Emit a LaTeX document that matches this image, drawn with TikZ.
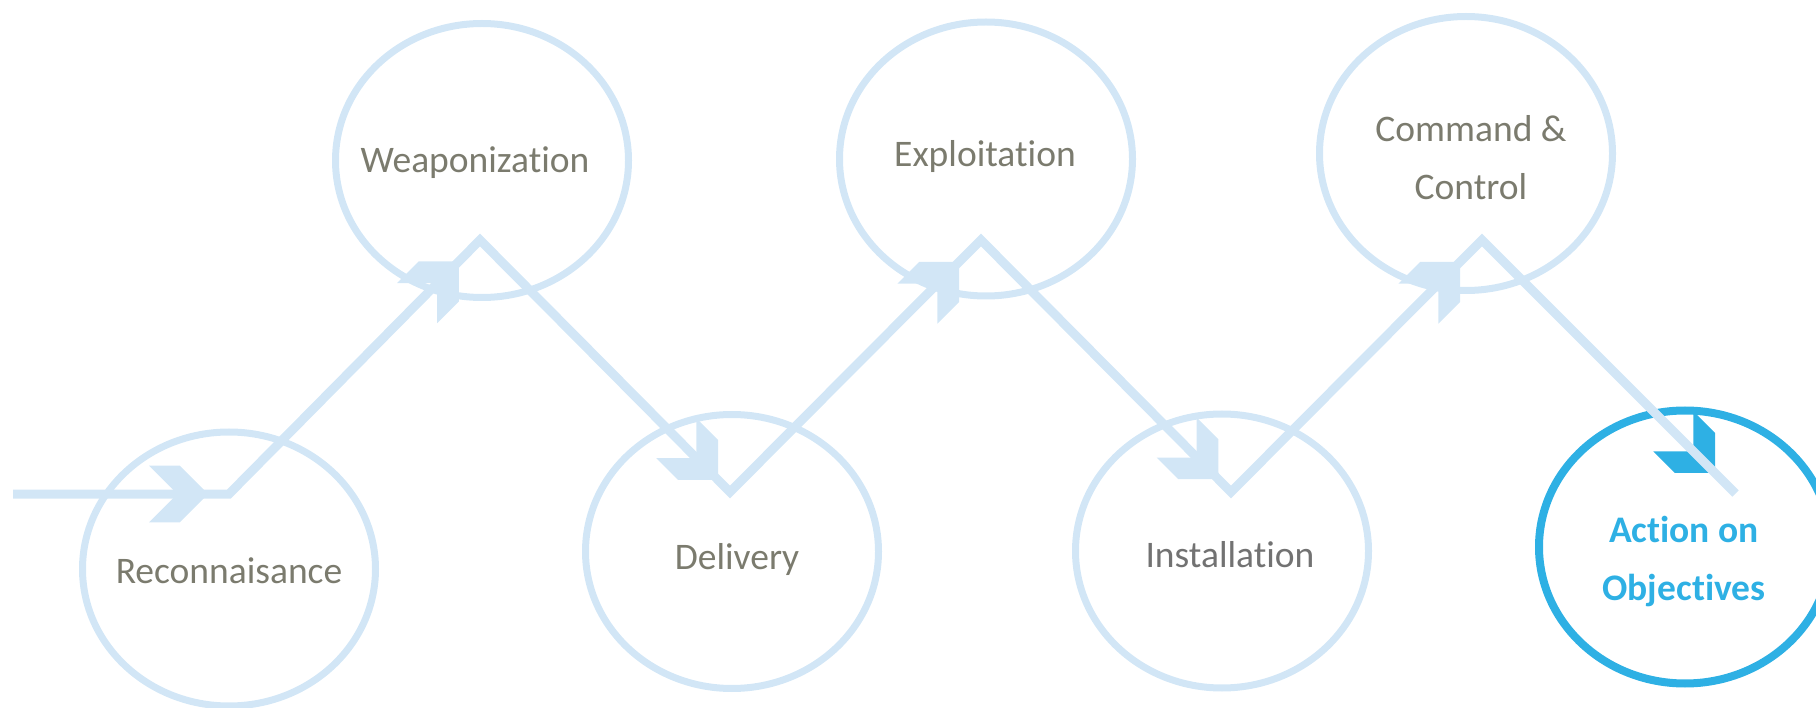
\documentclass[tikz,border=0pt]{standalone}
\usepackage{fontspec}
\setmainfont[Ligatures=NoCommon]{Carlito}
\usetikzlibrary{shapes.geometric,calc}
\definecolor{lightline}{HTML}{D2E6F6}
\definecolor{darkblue}{HTML}{2EB0E4}
\definecolor{txtgrey}{HTML}{7B7B6E}
\definecolor{txtgreyb}{HTML}{727272}
\begin{document}
\begin{tikzpicture}[x=1pt,y=-1pt,
  stage/.style={ellipse, draw=lightline, line width=7pt, minimum width=293pt, minimum height=274pt, inner sep=0pt},
  finalstage/.style={ellipse, draw=darkblue, line width=8pt, minimum width=292pt, minimum height=273pt, inner sep=0pt},
  stagetext/.style={text=txtgrey, font=\fontsize{37.5}{58}\selectfont, anchor=base, align=center, inner sep=0pt},
  flow/.style={draw=lightline, line width=9pt, line join=miter},
  chev/.pic={\fill (0,0) -- (-28.3,-28.3) -- (-59,-28.3) -- (-30.7,0) -- (-59,28.3) -- (-28.3,28.3) -- cycle;}]
\useasboundingbox (0,0) rectangle (1816,708);
% stages
\node[stage] (recon) at (229,569) {};
\node[stage] (weap) at (482,160.5) {};
\node[stage] (deliv) at (732,551.5) {};
\node[stage] (explo) at (986,159) {};
\node[stage] (inst) at (1222,551) {};
\node[stage] (cc) at (1466,153.5) {};
\node[finalstage] (act) at (1685,547) {};
% zigzag vertices
\coordinate (start) at (13,494);
\coordinate (v1) at (229,494);
\coordinate (v2) at (480,240);
\coordinate (v3) at (730,492);
\coordinate (v4) at (981,240);
\coordinate (v5) at (1231,492);
\coordinate (v6) at (1482,240);
\coordinate (end) at (1735.5,493.5);
% arrowheads
\pic[fill=lightline] at ($(v1)!21pt!(start)$) {chev};
\pic[fill=lightline, rotate=45] at ($(v2)!30pt!(v1)$) {chev};
\pic[fill=lightline, rotate=-45] at ($(v3)!17pt!(v2)$) {chev};
\pic[fill=lightline, rotate=45] at ($(v4)!31pt!(v3)$) {chev};
\pic[fill=lightline, rotate=-45] at ($(v5)!18pt!(v4)$) {chev};
\pic[fill=lightline, rotate=45] at ($(v6)!31pt!(v5)$) {chev};
\pic[fill=darkblue, rotate=-45] at ($(end)!29pt!(v6)$) {chev};
% flow line
\draw[flow] (start) -- (v1) -- (v2) -- (v3) -- (v4) -- (v5) -- (v6) -- (end);
% texts
\node[stagetext] (recontxt) at (229,583) {Reconnaisance};
\node[stagetext] (weaptxt) at (475,173) {Weaponization};
\node[stagetext] (delivtxt) at (737,569) {Delivery};
\node[stagetext] (explotxt) at (985,167) {Exploitation};
\node[stagetext, text=txtgreyb] (insttxt) at (1230,567) {Installation};
\node[stagetext] (cctxt) at (1471,200) {Command \&\\Control};
\node[stagetext, text=darkblue, font=\fontsize{37.5}{58}\selectfont\bfseries] (acttxt) at (1684,600) {Action on\\Objectives};
\end{tikzpicture}
\end{document}
